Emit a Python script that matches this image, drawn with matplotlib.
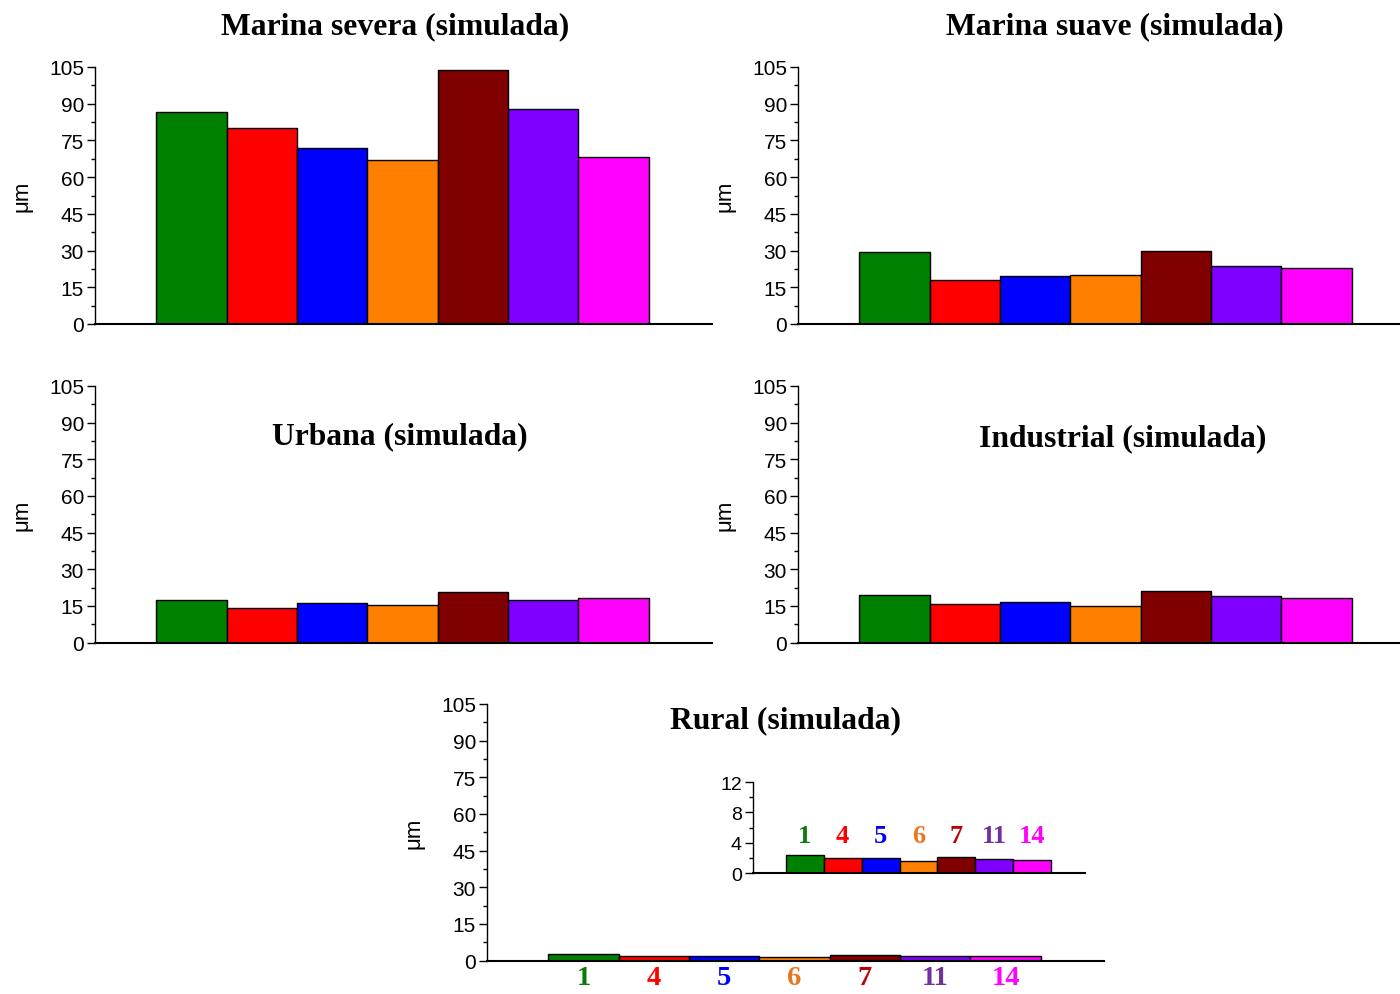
"""
Bar panels of simulated corrosion (um) for several atmospheres.
"""

import matplotlib
matplotlib.use("Agg")
import matplotlib.pyplot as plt
from matplotlib.ticker import MultipleLocator

# ---- data ----
probes = ["1", "4", "5", "6", "7", "11", "14"]
bar_colors = ["#008000", "#ff0000", "#0000ff", "#ff8000", "#800000", "#8000ff", "#ff00ff"]
label_colors = ["#0b7a0b", "#ff0000", "#0000ff", "#e87722", "#c00000", "#7030a0", "#ff00ff"]

marina_severa = [86.6, 80.1, 71.9, 67.0, 103.8, 87.8, 68.2]
marina_suave = [29.5, 18.1, 19.6, 20.1, 29.7, 23.5, 23.0]
urbana = [17.5, 14.1, 16.0, 15.4, 20.5, 17.2, 18.4]
industrial = [19.4, 15.6, 16.4, 15.0, 21.0, 19.0, 18.4]
rural = [2.46, 2.0, 1.97, 1.58, 2.1, 1.88, 1.7]

SANS = "Liberation Sans"
SERIF = "Liberation Serif"

W, H = 1400, 995
fig = plt.figure(figsize=(W / 100, H / 100), dpi=100)


def px_axes(left, right, bottom, top):
    """Axes rectangle given in pixel coordinates of the picture."""
    return fig.add_axes([left / W, 1 - bottom / H, (right - left) / W, (bottom - top) / H])


def draw_bars(ax, values, ymax=105, step=15, tick_fs=15, ylabel=True):
    x = list(range(1, len(values) + 1))
    ax.bar(x, values, width=1.0, color=bar_colors, edgecolor="black", linewidth=1.0)
    ax.set_xlim(-0.37, 8.4)
    ax.set_ylim(0, ymax)
    ax.yaxis.set_major_locator(MultipleLocator(step))
    ax.yaxis.set_minor_locator(MultipleLocator(step / 2))
    ax.spines["top"].set_visible(False)
    ax.spines["right"].set_visible(False)
    ax.spines["left"].set_linewidth(1.0)
    ax.spines["bottom"].set_linewidth(1.5)
    ax.tick_params(axis="y", which="major", length=6, width=1, direction="out",
                   labelsize=tick_fs, pad=2)
    ax.tick_params(axis="y", which="minor", length=3, width=1, direction="out")
    ax.set_xticks([])
    for lab in ax.get_yticklabels():
        lab.set_fontfamily(SANS)
    if ylabel:
        ax.set_ylabel("μm", fontsize=16, fontfamily=SANS, labelpad=12)
    ax.patch.set_alpha(0)


ax1 = px_axes(95, 712, 325, 68)
draw_bars(ax1, marina_severa)
ax2 = px_axes(798, 1415, 325, 68)
draw_bars(ax2, marina_suave)
ax3 = px_axes(95, 712, 643.5, 387)
draw_bars(ax3, urbana)
ax4 = px_axes(798, 1415, 643.5, 387)
draw_bars(ax4, industrial)
ax5 = px_axes(487, 1104, 961.5, 705)
draw_bars(ax5, rural)

# probe labels under the rural panel
ax5.set_xticks(range(1, len(probes) + 1))
ax5.set_xticklabels(probes)
ax5.tick_params(axis="x", length=0, pad=3)
for lab, c in zip(ax5.get_xticklabels(), label_colors):
    lab.set_color(c)
    lab.set_fontfamily(SERIF)
    lab.set_fontweight("bold")
    lab.set_fontsize(20.5)

# inset zoom on the rural values
axi = px_axes(753, 1085, 874.3, 783)
draw_bars(axi, rural, ymax=12, step=4, tick_fs=14, ylabel=False)
for i, (p, c) in enumerate(zip(probes, label_colors)):
    axi.text(i + 1, 5.0, p, ha="center", va="center", color=c,
             fontfamily=SERIF, fontweight="bold", fontsize=19)

# panel titles
title_kw = dict(ha="center", va="center", fontfamily=SERIF, fontweight="bold", fontsize=22.8)
fig.text(395 / W, 1 - 27 / H, "Marina severa (simulada)", **title_kw)
fig.text(1115 / W, 1 - 27 / H, "Marina suave (simulada)", **title_kw)
fig.text(400 / W, 1 - 437 / H, "Urbana (simulada)", **title_kw)
fig.text(1123 / W, 1 - 439 / H, "Industrial (simulada)", **title_kw)
fig.text(785 / W, 1 - 721 / H, "Rural (simulada)", **title_kw)

fig.savefig("out.png", dpi=100)
